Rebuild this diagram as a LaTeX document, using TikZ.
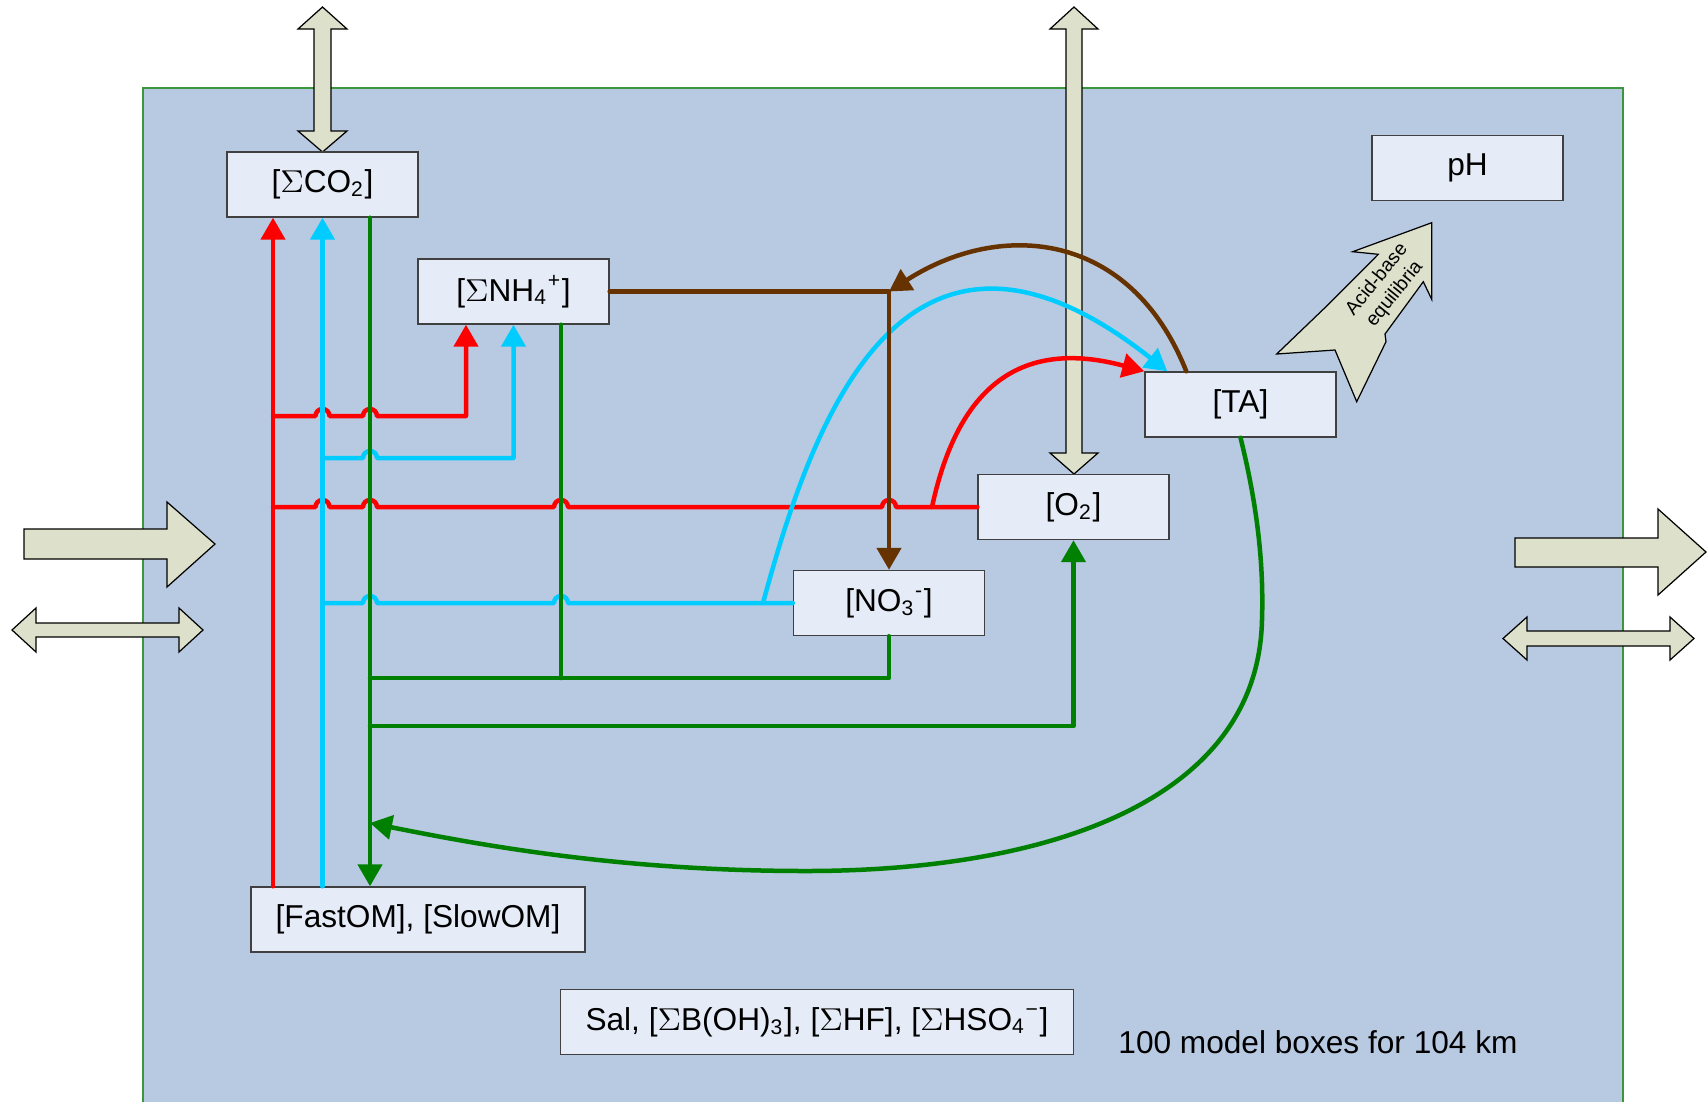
\documentclass[tikz,border=0pt]{standalone}
\usepackage{fontspec}
\setmainfont{Liberation Sans}
\usetikzlibrary{arrows.meta}
\definecolor{waterColor}{RGB}{184, 201, 226}
\definecolor{edgeColor}{RGB}{60, 150, 60}
\definecolor{boxColor}{RGB}{230, 236, 247}
\definecolor{boxEdge}{RGB}{64, 64, 64}
\definecolor{fluxColor}{RGB}{221, 225, 203}
\definecolor{redFlow}{RGB}{255, 0, 0}
\definecolor{cyanFlow}{RGB}{0, 204, 255}
\definecolor{greenFlow}{RGB}{0, 128, 0}
\definecolor{brownFlow}{RGB}{102, 51, 0}

\begin{document}
\begin{tikzpicture}[x=0.1mm, y=-0.1mm, font=\fontsize{9}{11}\selectfont,
	box/.style={draw=boxEdge, fill=boxColor, line width=0.4pt, minimum width=19.1mm, minimum height=6.5mm, inner sep=0pt},
	flux/.style={draw=black, fill=fluxColor, line width=0.35pt},
	flow/.style={line width=0.45mm, line cap=round, line join=round},
	tip/.style={-{Triangle[width=2.4mm, length=2.2mm]}}]
					\useasboundingbox (0,0) rectangle (1707,1101);
					% Model domain
					\draw[edgeColor, fill=waterColor, line width=0.5pt] (143,88) rectangle (1623,1120);
					
					% Exchange arrows (atmosphere, boundaries)
					\draw[flux] (322.5,7) -- (347,29) -- (331,29) -- (331,131) -- (347,131) -- (322.5,152) -- (298,131) -- (314,131) -- (314,29) -- (298,29) -- cycle;
					\draw[flux] (1074,7) -- (1098,29) -- (1082,29) -- (1082,453) -- (1098,453) -- (1074,474) -- (1050,453) -- (1066,453) -- (1066,29) -- (1050,29) -- cycle;
					\draw[flux] (24,529) -- (167,529) -- (167,502) -- (215,544) -- (167,587) -- (167,559) -- (24,559) -- cycle;
					\draw[flux] (12,630) -- (36,608) -- (36,623) -- (179,623) -- (179,608) -- (203,630) -- (179,652) -- (179,637) -- (36,637) -- (36,652) -- cycle;
					\draw[flux] (1515,538) -- (1658,538) -- (1658,509) -- (1706,552) -- (1658,595) -- (1658,567) -- (1515,567) -- cycle;
					\draw[flux] (1503,638.5) -- (1527,617) -- (1527,631) -- (1670,631) -- (1670,617) -- (1694,638.5) -- (1670,660) -- (1670,646) -- (1527,646) -- (1527,660) -- cycle;
					
					% Acid-base arrow
					\draw[flux] (1431.7,222.7) -- (1352.7,251.7) -- (1378.3,254.3) -- (1326,306.7) -- (1276.7,354) -- (1335,350) -- (1356.7,401.7) -- (1386,341.7) -- (1385,334) -- (1423.3,281.7) -- (1431.7,299.3) -- cycle;
					\node[rotate=51, align=center, font=\fontsize{5.5}{6.5}\selectfont] (acid) at (1386,287) {Acid-base\\equilibria};
					
					% State variables
					\node[box] (co2) at (322.5,184.5) {[$\Sigma$CO\textsubscript{2}]};
					\node[box] (nh4) at (513.5,291.5) {[$\Sigma$NH\textsubscript{4}\textsuperscript{+}]};
					\node[box] (ph) at (1467.5,168) {pH};
					\node[box] (ta) at (1240.5,404.5) {[TA]};
					\node[box] (o2) at (1073.5,507) {[O\textsubscript{2}]};
					\node[box] (no3) at (889,603) {[NO\textsubscript{3}\textsuperscript{-}]};
					\node[box, minimum width=33.4mm] (om) at (418,919.5) {[FastOM], [SlowOM]};
					\node[box, minimum width=51.3mm] (sal) at (817,1022) {Sal, [$\Sigma$B(OH)\textsubscript{3}], [$\Sigma$HF], [$\Sigma$HSO\textsubscript{4}\textsuperscript{−}]};
					\node (note) at (1318,1042) {100 model boxes for 104 km};
					
					% Lanes and junctions
					\coordinate (rlane) at ([xshift=-4.95mm]co2.south);
					\coordinate (glane) at ([xshift=4.75mm]co2.south);
					\coordinate (nhr) at ([xshift=-4.75mm]nh4.south);
					\coordinate (nhg) at ([xshift=4.75mm]nh4.south);
					\coordinate (rj1) at (273,416);
					\coordinate (rj2) at (273,507);
					\coordinate (rc) at (932,507);
					\coordinate (cj1) at (322.5,458);
					\coordinate (cj2) at (322.5,603);
					\coordinate (cc) at (763,603);
					\coordinate (gj1) at (370,678);
					\coordinate (gj2) at (370,726);
					\coordinate (gj3) at (370,823);
					\coordinate (tar) at ([xshift=2.3mm]ta.north west);
					\coordinate (tab) at ([xshift=4.2mm]ta.north west);
					
					% Red fluxes
					\draw[flow, redFlow, tip] (rj1) -- (315.5,416) arc (180:0:0.7mm) -- (363,416) arc (180:0:0.7mm) -- (nhr |- rj1) -- (nhr);
					\draw[flow, redFlow] (rj2) -- (315.5,507) arc (180:0:0.7mm) -- (363,507) arc (180:0:0.7mm) -- (554,507) arc (180:0:0.7mm) -- (882,507) arc (180:0:0.7mm) -- (o2.west);
					\draw[flow, redFlow, tip] (rc) .. controls (955,400) and (1010,335) .. (ta.north west);
					
					% Cyan fluxes
					\draw[flow, cyanFlow, tip] (cj1) -- (363,458) arc (180:0:0.7mm) -- (nh4.south |- cj1) -- (nh4.south);
					\draw[flow, cyanFlow] (cj2) -- (363,603) arc (180:0:0.7mm) -- (554,603) arc (180:0:0.7mm) -- (no3.west);
					\draw[flow, cyanFlow, tip] (cc) .. controls (810,430) and (900,160) .. (tar);
					
					% Brown fluxes
					\draw[flow, brownFlow, tip] (nh4.east) -- (no3.north |- nh4.east) -- (no3.north);
					\draw[flow, brownFlow, tip] (tab) .. controls (1130,230) and (1000,220) .. (no3.north |- nh4.east);
					
					% Green fluxes
					\draw[flow, greenFlow] (nhg) -- (nhg |- gj1);
					\draw[flow, greenFlow] (gj1) -- (no3.south |- gj1) -- (no3.south);
					\draw[flow, greenFlow, tip] (gj2) -- (o2.south |- gj2) -- (o2.south);
					\draw[flow, greenFlow, tip] (ta.south) .. controls (1256,500) and (1264,560) .. (1262,620) .. controls (1258,800) and (1050,871) .. (806,871) .. controls (620,871) and (480,845) .. (gj3);
					
					% Main lanes
					\draw[flow, redFlow, tip] (rlane |- om.north) -- (rlane);
					\draw[flow, cyanFlow, tip] (co2.south |- om.north) -- (co2.south);
					\draw[flow, greenFlow, tip] (glane) -- (glane |- om.north);
				\end{tikzpicture}
\end{document}
